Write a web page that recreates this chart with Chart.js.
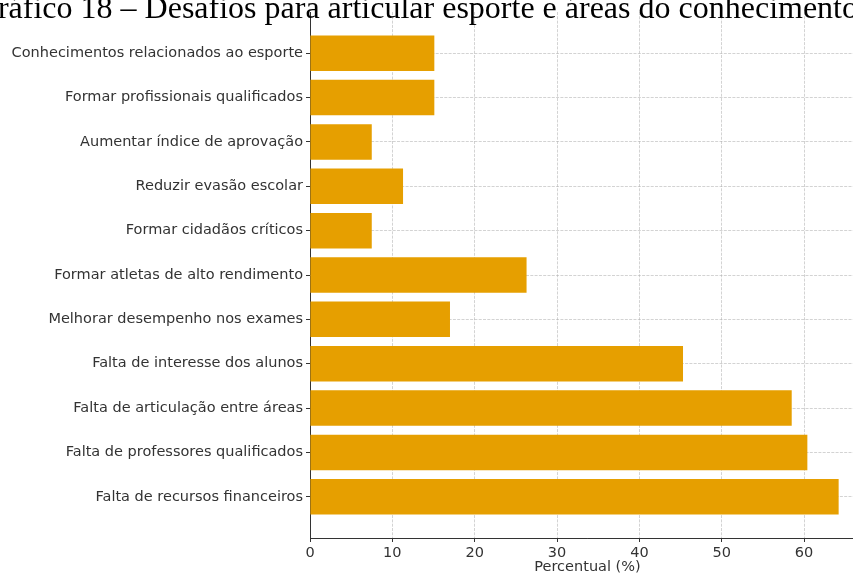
<!DOCTYPE html>
<html>
<head>
<meta charset="utf-8">
<script src="https://cdn.jsdelivr.net/npm/chart.js@4"></script>
<style>
html,body{margin:0;padding:0;background:#fff;overflow:hidden;}
#wrap{width:853px;height:576px;overflow:hidden;}
</style>
</head>
<body>
<div id="wrap"><canvas id="mychart" width="880" height="576"></canvas></div>
<script>
'use strict';
// categorias de cima para baixo, como aparecem no grafico
const categorias = [
  'Conhecimentos relacionados ao esporte',
  'Formar profissionais qualificados',
  'Aumentar índice de aprovação',
  'Reduzir evasão escolar',
  'Formar cidadãos críticos',
  'Formar atletas de alto rendimento',
  'Melhorar desempenho nos exames',
  'Falta de interesse dos alunos',
  'Falta de articulação entre áreas',
  'Falta de professores qualificados',
  'Falta de recursos financeiros'
];
const percentuais = [15.1, 15.1, 7.5, 11.3, 7.5, 26.3, 17.0, 45.3, 58.5, 60.4, 64.2];
const ticksX = [0, 10, 20, 30, 40, 50, 60];
const titulo = 'Gráfico 18 – Desafios para articular esporte e áreas do conhecimento';
const tituloEixoX = 'Percentual (%)';

const corTexto = '#333333';
const corGrade = 'rgba(176,176,176,0.7)';
const tamFonte = 14.5;

// titulo cortado no topo, como no original
const tituloPlugin = {
  id: 'tituloCortado',
  afterDraw(chart){
    const c = chart.ctx;
    c.save();
    c.font = '32px "Liberation Serif"';
    c.fillStyle = '#000';
    c.textAlign = 'right';
    c.textBaseline = 'alphabetic';
    c.fillText(titulo, 858, 18);
    c.restore();
  }
};

Chart.defaults.font.family = '"DejaVu Sans"';
Chart.defaults.font.size = tamFonte;
Chart.defaults.color = corTexto;

let mychart = document.getElementById('mychart').getContext('2d');
let barchart = new Chart(mychart, {
  type: 'bar',
  data: {
    datasets: [{
      label: 'Percentual',
      data: categorias.map((c, i) => ({x: percentuais[i], y: i})),
      backgroundColor: '#E69F00',
      borderWidth: 0,
      barPercentage: 0.8,
      categoryPercentage: 1
    }]
  },
  options: {
    responsive: false,
    animation: false,
    indexAxis: 'y',
    layout: {padding: {left: 0, top: 12, right: 15, bottom: 0}},
    plugins: {
      legend: {display: false},
      tooltip: {enabled: false}
    },
    scales: {
      x: {
        type: 'linear',
        position: 'bottom',
        min: 0,
        max: 67.4,
        afterBuildTicks: s => { s.ticks = ticksX.map(v => ({value: v})); },
        afterFit: s => { s.height = 38; },
        ticks: {padding: 3, color: corTexto, font: {size: tamFonte}},
        grid: {color: corGrade, lineWidth: 0.8, drawTicks: true, tickLength: 4, tickColor: corTexto, tickWidth: 1},
        border: {display: true, color: corTexto, width: 1, dash: [3, 1.3]},
        title: {display: true, text: tituloEixoX, color: corTexto, font: {size: tamFonte}, padding: {top: 0, bottom: 0}}
      },
      y: {
        type: 'linear',
        reverse: true,
        offset: false,
        min: -0.93,
        max: 10.93,
        afterBuildTicks: s => { s.ticks = categorias.map((c, i) => ({value: i})); },
        afterFit: s => { s.width = 310; },
        ticks: {
          autoSkip: false,
          padding: 3,
          color: corTexto,
          font: {size: tamFonte},
          callback: v => categorias[v]
        },
        grid: {offset: false, color: corGrade, lineWidth: 0.8, drawTicks: true, tickLength: 4, tickColor: corTexto, tickWidth: 1},
        border: {display: true, color: corTexto, width: 1, dash: [3, 1.3]}
      }
    }
  },
  plugins: [tituloPlugin]
});
</script>
</body>
</html>
